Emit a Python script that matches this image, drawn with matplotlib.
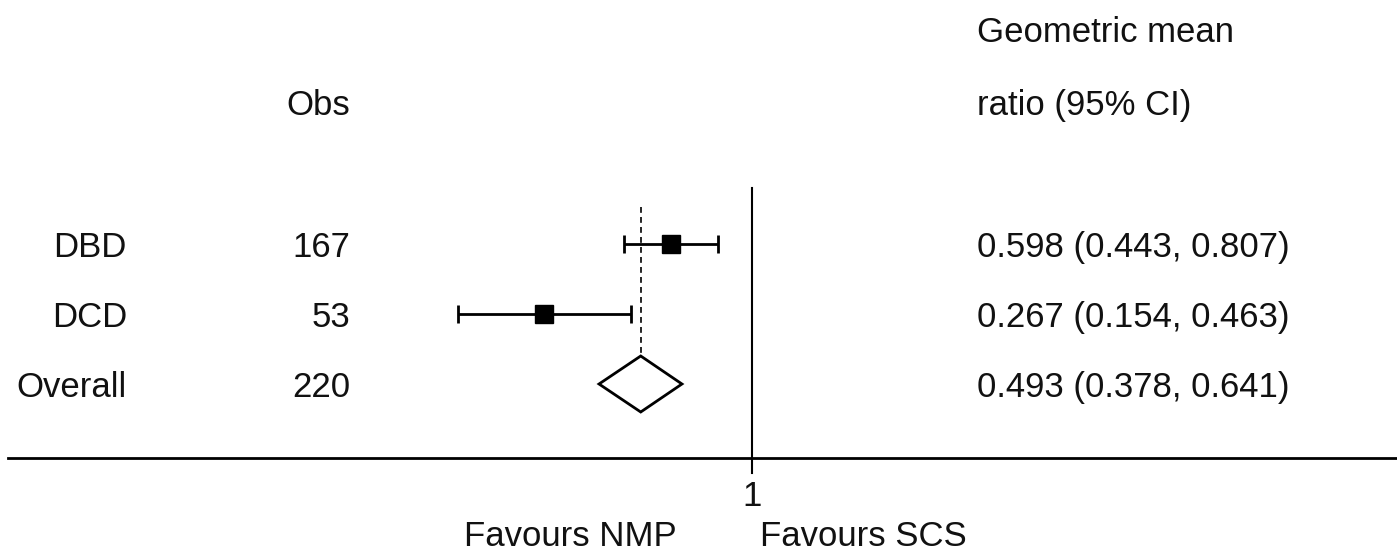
import matplotlib
matplotlib.use('Agg')
import matplotlib.pyplot as plt
import matplotlib.transforms as mtransforms
import numpy as np

labels = ['DBD', 'DCD', 'Overall']
obs = [167, 53, 220]
est = [0.598, 0.267, 0.493]
lo = [0.443, 0.154, 0.378]
hi = [0.807, 0.463, 0.641]
ratio_text = ['0.598 (0.443, 0.807)', '0.267 (0.154, 0.463)', '0.493 (0.378, 0.641)']

plt.rcParams['font.family'] = ['Liberation Sans', 'DejaVu Sans']
fs = 25
tc = '#111111'

fig = plt.figure(figsize=(13.97, 5.55), dpi=100)
ax = fig.add_axes([0, 0, 1, 1])
ax.set_xscale('log')
ax.set_xlim(0.00833, 60.9)
ax.set_ylim(4.443, -3.486)
ax.axis('off')

rows = np.arange(len(labels))
n = len(labels) - 1  # last row is the pooled estimate

# individual estimates
e = np.array(est[:n])
xerr = [e - np.array(lo[:n]), np.array(hi[:n]) - e]
ax.errorbar(e, rows[:n], xerr=xerr, fmt='s', ms=13.5, color='black',
            ecolor='black', elinewidth=2, capsize=6.5, capthick=2)

# pooled diamond
r = rows[n]
ax.fill([lo[n], est[n], hi[n], est[n]], [r, r - 0.4, r, r + 0.4],
        facecolor='white', edgecolor='black', lw=2, zorder=3)

# reference lines
ax.plot([est[n], est[n]], [-0.53, 2.44], color='black', lw=1.2, ls=(0, (3.5, 2.5)), zorder=1)
ax.plot([1, 1], [-0.8, 3.27], color='black', lw=1.5)
ax.axhline(3.06, xmin=0.006, xmax=1, color='black', lw=2)

# text columns
tr = mtransforms.blended_transform_factory(ax.transAxes, ax.transData)
off = 0.19
for i in rows:
    ax.text(0.0909, i + off, labels[i], transform=tr, ha='right', va='baseline', fontsize=fs, color=tc)
    ax.text(0.2505, i + off, str(obs[i]), transform=tr, ha='right', va='baseline', fontsize=fs, color=tc)
    ax.text(0.699, i + off, ratio_text[i], transform=tr, ha='left', va='baseline', fontsize=fs, color=tc)

ax.text(0.2505, -1.84, 'Obs', transform=tr, ha='right', va='baseline', fontsize=fs, color=tc)
ax.text(0.699, -2.89, 'Geometric mean', transform=tr, ha='left', va='baseline', fontsize=fs, color=tc)
ax.text(0.699, -1.84, 'ratio (95% CI)', transform=tr, ha='left', va='baseline', fontsize=fs, color=tc)

ax.text(1, 3.75, '1', ha='center', va='baseline', fontsize=fs, color=tc)
ax.text(0.484, 4.32, 'Favours NMP', transform=tr, ha='right', va='baseline', fontsize=fs, color=tc)
ax.text(0.544, 4.32, 'Favours SCS', transform=tr, ha='left', va='baseline', fontsize=fs, color=tc)

fig.savefig('out.png', dpi=100)
